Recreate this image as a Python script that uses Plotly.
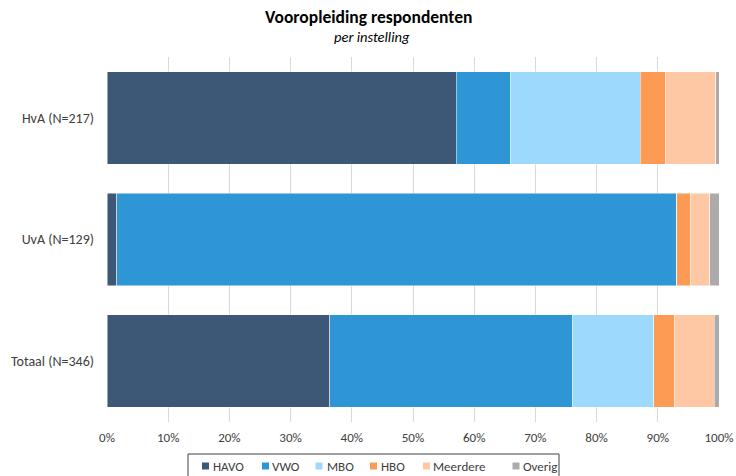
import plotly.graph_objects as go

categories = ["HvA (N=217)", "UvA (N=129)", "Totaal (N=346)"]
series_names = ["HAVO", "VWO", "MBO", "HBO", "Meerdere", "Overig"]
havo = [57.1, 1.6, 36.4]
vwo = [8.8, 91.5, 39.6]
mbo = [21.2, 0.0, 13.3]
hbo = [4.1, 2.3, 3.5]
meerdere = [8.3, 3.1, 6.4]
overig = [0.5, 1.5, 0.8]
series_values = [havo, vwo, mbo, hbo, meerdere, overig]
colors = ["#3D5877", "#2E96D4", "#9DD9FD", "#FD9A54", "#FFC8A4", "#AEAAAA"]
x_ticks = list(range(0, 101, 10))
x_tick_labels = [f"{t}%" for t in x_ticks]

FONT = "Calibri, Carlito, Lato, 'Open Sans', sans-serif"

# layout geometry (pixels)
W, H = 736, 476
L, R, T, B = 107, 17, 57, 54
PW, PH = W - L - R, H - T - B


def px(x):
    return (x - L) / PW


def py(y):
    return (H - B - y) / PH


fig = go.Figure()
for name, vals, col in zip(series_names, series_values, colors):
    fig.add_trace(go.Bar(
        y=categories, x=vals, name=name, orientation="h",
        marker=dict(color=col, line=dict(color="rgba(255,255,255,0.6)", width=0.8)),
        hoverinfo="x+name", showlegend=False,
    ))

# custom compact legend (positions of the legend entries)
legend_square_x = [202, 262, 315.5, 370, 423, 512.5]
legend_text_x = [212, 271, 326, 380, 431.5, 522]
legend_y = 466
shapes = [dict(type="rect", xref="paper", yref="paper",
               x0=px(188), x1=px(559), y0=py(454), y1=py(482),
               line=dict(color="#404040", width=1), fillcolor="rgba(0,0,0,0)")]
annotations = []
for name, col, sx, tx in zip(series_names, colors, legend_square_x, legend_text_x):
    shapes.append(dict(type="rect", xref="paper", yref="paper",
                       x0=px(sx), x1=px(sx + 7), y0=py(legend_y + 3.5), y1=py(legend_y - 3.5),
                       line=dict(width=0), fillcolor=col))
    annotations.append(dict(text=name, xref="paper", yref="paper",
                            x=px(tx - 1), y=py(legend_y), xanchor="left", yanchor="middle",
                            showarrow=False, font=dict(family=FONT, size=13, color="#404040")))

annotations += [
    dict(text="<b>Vooropleiding respondenten</b>", xref="paper", yref="paper",
         x=px(368), y=py(17), xanchor="center", yanchor="middle",
         showarrow=False, font=dict(family=FONT, size=17.5, color="#000000")),
    dict(text="<i>per instelling</i>", xref="paper", yref="paper",
         x=px(372), y=py(37), xanchor="center", yanchor="middle",
         showarrow=False, font=dict(family=FONT, size=14.5, color="#000000")),
]

fig.update_layout(
    barmode="stack",
    bargap=0.24,
    width=W, height=H,
    showlegend=False,
    paper_bgcolor="white", plot_bgcolor="white",
    margin=dict(l=L, r=R, t=T, b=B, autoexpand=False),
    font=dict(family=FONT, size=13, color="#404040"),
    xaxis=dict(
        range=[0, 100], tickvals=x_ticks, ticktext=x_tick_labels,
        showgrid=True, gridcolor="#D9D9D9", gridwidth=1,
        zeroline=False, showline=False, ticks="", automargin=False,
        tickfont=dict(size=13, color="#404040"), ticklabelstandoff=6,
    ),
    yaxis=dict(
        autorange="reversed", showgrid=False, ticks="", showline=False,
        automargin=False, ticklabelstandoff=12,
        tickfont=dict(size=14, color="#404040"),
    ),
    shapes=shapes,
    annotations=annotations,
)

fig.write_html("out.html", config={"displayModeBar": False},
               post_script="document.body.style.margin='0';")
